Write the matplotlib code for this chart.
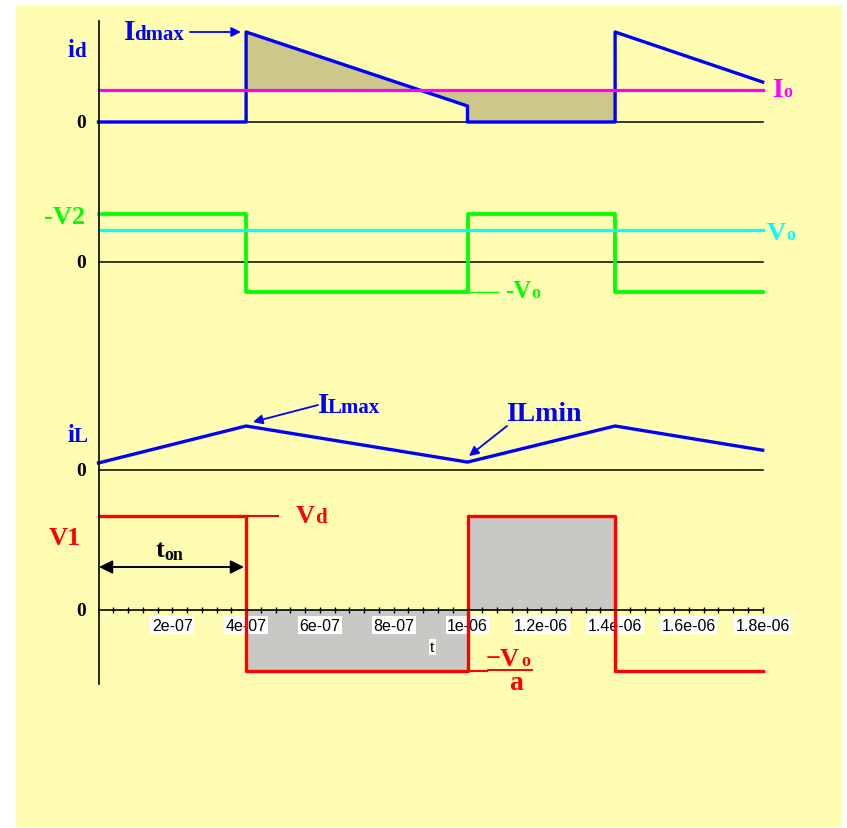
import matplotlib.pyplot as plt
from matplotlib.patches import Rectangle

# switching instants (s) and step waveforms, values normalised per trace
t_sw = [0, 4e-7, 4e-7, 1e-6, 1e-6, 1.4e-6, 1.4e-6, 1.8e-6]
id_val = [0, 0, 1.0, 0.178, 0, 0, 1.0, 0.444]
Io = 0.356
vs_val = [1, 1, -0.625, -0.625, 1, 1, -0.625, -0.625]
Vo = 0.667
t_iL = [0, 4e-7, 1e-6, 1.4e-6, 1.8e-6]
iL_val = [0.16, 1.0, 0.18, 1.0, 0.45]
v1_val = [1, 1, -0.65, -0.65, 1, 1, -0.65, -0.65]

major_ticks = [2e-7, 4e-7, 6e-7, 8e-7, 1e-6, 1.2e-6, 1.4e-6, 1.6e-6, 1.8e-6]
tick_labels = ['2e-07', '4e-07', '6e-07', '8e-07', '1e-06',
               '1.2e-06', '1.4e-06', '1.6e-06', '1.8e-06']
minor_ticks = [k * 4e-8 for k in range(1, 46)]

W, H = 847, 829
T0_PX, PX_PER_S = 98.5, 369e6
SERIF = 'Liberation Serif'
SANS = 'Liberation Sans'

fig = plt.figure(figsize=(W / 100, H / 100), dpi=100, facecolor='white')
fig.add_artist(Rectangle((16 / W, 1 - 828 / H), 826 / W, 822 / H,
                         transform=fig.transFigure, facecolor='#FFFDB2',
                         edgecolor='none', zorder=-5))


def panel(zero_px, unit_px):
    ax = fig.add_axes([0, 0, 1, 1])
    ax.set_xlim(-T0_PX / PX_PER_S, (W - T0_PX) / PX_PER_S)
    ax.set_ylim((zero_px - H) / unit_px, zero_px / unit_px)
    ax.patch.set_visible(False)
    return ax


T_END = t_sw[-1]

# diode current
ax1 = panel(123, 90)
ax1.axis('off')
ax1.fill_between(t_sw[2:6], id_val[2:6], Io, color='#CDC88A', lw=0, zorder=1)
ax1.plot([0, T_END], [0, 0], color='black', lw=1.1, zorder=1.5)
ax1.plot(t_sw, id_val, color='#0000FF', lw=2.4, zorder=2)
ax1.plot([0, T_END], [Io, Io], color='#FF00FF', lw=2.3, zorder=3)

# secondary voltage
ax2 = panel(263, 48)
ax2.axis('off')
ax2.plot([0, T_END], [0, 0], color='black', lw=1.1, zorder=1.5)
ax2.plot(t_sw, vs_val, color='#00FF00', lw=2.7, zorder=2)
ax2.plot([0, T_END], [Vo, Vo], color='#00FFFF', lw=2.3, zorder=3)
ax2.plot([1e-6, 1e-6 + 30 / PX_PER_S], [vs_val[3], vs_val[3]],
         color='#00FF00', lw=1, zorder=2)

# inductor current
ax3 = panel(471, 44)
ax3.axis('off')
ax3.plot([0, T_END], [0, 0], color='black', lw=1.1, zorder=1.5)
ax3.plot(t_iL, iL_val, color='#0000FF', lw=2.4, zorder=2)

# primary voltage, carries the time axis
ax4 = panel(611, 94)
ax4.fill_between(t_sw[2:6], v1_val[2:6], 0, color='#C8C8C4', lw=0, zorder=1)
ax4.plot(t_sw, v1_val, color='#FF0000', lw=2.4, zorder=2)
ax4.plot([4e-7, 4e-7 + 32 / PX_PER_S], [v1_val[0], v1_val[0]],
         color='#FF0000', lw=1.5, zorder=2)
ax4.plot([1e-6, 1e-6 + 19 / PX_PER_S], [v1_val[3], v1_val[3]],
         color='#FF0000', lw=1.5, zorder=2)
for side in ['top', 'right']:
    ax4.spines[side].set_visible(False)
ax4.spines['bottom'].set_position(('data', 0))
ax4.spines['bottom'].set_bounds(0, T_END)
ax4.spines['left'].set_position(('data', 0))
ax4.spines['left'].set_bounds((611 - 685) / 94, (611 - 22) / 94)
for side in ['bottom', 'left']:
    ax4.spines[side].set_linewidth(1.2)
ax4.set_yticks([])
ax4.set_xticks(major_ticks)
ax4.set_xticklabels(tick_labels, fontfamily=SANS, fontsize=11.5)
ax4.set_xticks(minor_ticks, minor=True)
ax4.tick_params(axis='x', which='both', direction='inout', length=5,
                width=1, pad=3)
for lbl in ax4.get_xticklabels():
    lbl.set_bbox(dict(facecolor='white', edgecolor='none', pad=1))

# labels and arrows in pixel coordinates
ov = fig.add_axes([0, 0, 1, 1])
ov.set_xlim(0, W)
ov.set_ylim(H, 0)
ov.axis('off')


def lab(x, y, s, size, color, family=SERIF, **kw):
    ov.text(x, y, s, fontsize=size, color=color, family=family,
            fontweight='bold', ha=kw.pop('ha', 'left'),
            va=kw.pop('va', 'baseline'), **kw)


blue, red, green = '#0000FF', '#FF0000', '#00FF00'
for y0 in [123, 263, 472, 612]:
    lab(86, y0, '0', 14, 'black', ha='right', va='center')

lab(68, 57, 'i', 18, blue)
lab(74, 57, 'd', 15, blue)
lab(124, 40, 'I', 21, blue)
lab(134, 40, 'dmax', 15, blue)
ov.annotate('', xy=(241, 33), xytext=(190, 33),
            arrowprops=dict(arrowstyle='-|>', color=blue, lw=1.3,
                            mutation_scale=14, shrinkA=0, shrinkB=0))
lab(772, 97, 'I', 20, '#FF00FF')
lab(783, 97, 'o', 13, '#FF00FF')

lab(44, 224, '-V2', 19, green)
lab(767, 240, 'V', 19, '#00FFFF')
lab(786, 240, 'o', 13, '#00FFFF')
lab(505, 298, '-V', 18, green)
lab(531, 298, 'o', 13, green)

lab(68, 442, 'i', 18, blue)
lab(74, 442, 'L', 15, blue)
lab(318, 413, 'I', 21, blue)
lab(328, 413, 'Lmax', 15, blue)
ov.annotate('', xy=(253, 423), xytext=(318, 406),
            arrowprops=dict(arrowstyle='-|>', color=blue, lw=1.3,
                            mutation_scale=14, shrinkA=0, shrinkB=0))
lab(506, 421, 'ILmin', 20, blue)
ov.annotate('', xy=(469, 457), xytext=(507, 427),
            arrowprops=dict(arrowstyle='-|>', color=blue, lw=1.3,
                            mutation_scale=14, shrinkA=0, shrinkB=0))

lab(49, 545, 'V1', 19, red)
lab(296, 523, 'V', 19, red)
lab(315, 523, 'd', 15, red)
lab(156, 557, 't', 19, 'black')
lab(164, 560, 'on', 13, 'black')
ov.annotate('', xy=(99, 568), xytext=(244, 568),
            arrowprops=dict(arrowstyle='<|-|>', color='black', lw=1.4,
                            mutation_scale=20, shrinkA=0, shrinkB=0))
lab(486, 666, '\u2212V', 19, red)
lab(521, 666, 'o', 13, red)
ov.plot([488, 532], [671, 671], color=red, lw=1.4)
lab(509, 690, 'a', 20, red)

ov.text(432, 648, 't', fontsize=11, family=SANS, ha='center', va='center',
        bbox=dict(facecolor='white', edgecolor='none', pad=1))

fig.savefig('out.png', dpi=100, facecolor='white')
